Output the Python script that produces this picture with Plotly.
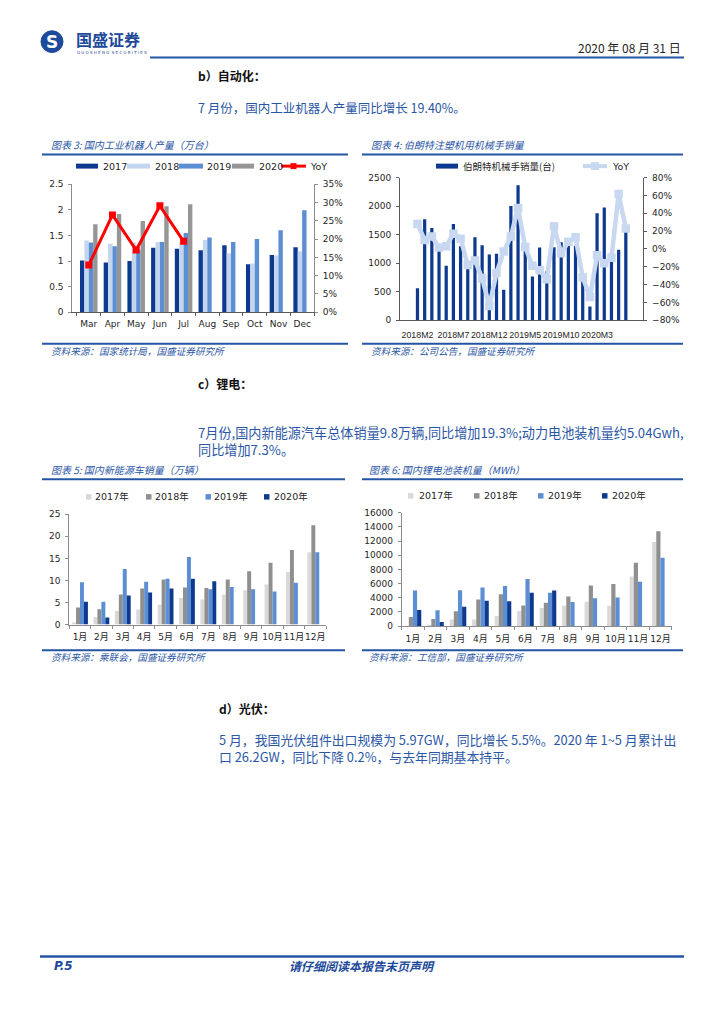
import plotly.graph_objects as go

W, H = 724, 1024


def X(px):
    return px / W


def Y(py):
    return 1 - py / H


# ---------------- data ----------------
robot_months = ["Mar", "Apr", "May", "Jun", "Jul", "Aug", "Sep", "Oct", "Nov", "Dec"]
robot_2017 = [1.01, 0.97, 1.00, 1.26, 1.24, 1.21, 1.31, 0.94, 1.12, 1.27]
robot_2018 = [1.40, 1.34, 1.36, 1.37, 1.35, 1.41, 1.15, 0.95, 1.11, 1.19]
robot_2019 = [1.36, 1.29, 1.22, 1.37, 1.55, 1.46, 1.37, 1.43, 1.60, 1.99]
robot_2020 = [1.72, 1.92, 1.78, 2.07, 2.11]
robot_yoy = [0.129, 0.266, 0.170, 0.291, 0.194]

arm_months = (["2018M%d" % m for m in range(2, 13)]
              + ["2019M%d" % m for m in range(1, 13)]
              + ["2020M%d" % m for m in range(1, 8)])
arm_sales = [560, 1770, 1615, 1330, 955, 1685, 1295, 910, 1455, 1315, 1150, 1165,
             535, 2000, 2365, 1340, 765, 1275, 860, 1280, 1365, 1320, 1305, 730,
             240, 1875, 1975, 1190, 1235, 1555]
arm_yoy = [0.28, 0.10, 0.14, 0.015, 0.03, 0.17, 0.115, -0.18, -0.13, -0.33, -0.64, -0.27,
           -0.03, 0.14, 0.46, 0.02, -0.19, -0.24, -0.34, 0.255, -0.05, 0.08, 0.13, -0.32,
           -0.54, -0.07, -0.16, -0.10, 0.615, 0.23]
arm_ticks = ["2018M2", "2018M7", "2018M12", "2019M5", "2019M10", "2020M3"]

cn_months = ["1月", "2月", "3月", "4月", "5月", "6月", "7月", "8月", "9月", "10月", "11月", "12月"]
nev_2017 = [0.5, 1.7, 3.1, 3.4, 4.5, 6.0, 5.7, 6.8, 7.8, 9.1, 11.9, 16.4]
nev_2018 = [3.9, 3.5, 6.8, 8.2, 10.2, 8.4, 8.3, 10.2, 12.1, 14.0, 16.9, 22.5]
nev_2019 = [9.6, 5.2, 12.6, 9.7, 10.4, 15.3, 8.0, 8.5, 8.0, 7.5, 9.5, 16.4]
nev_2020 = [5.2, 1.6, 6.6, 7.3, 8.2, 10.4, 9.8]

bat_2017 = [50, 150, 930, 930, 1440, 2140, 2560, 2880, 3440, 2880, 7020, 11860]
bat_2018 = [1300, 1020, 2090, 3770, 4510, 2930, 3300, 4190, 5720, 5950, 8930, 13400]
bat_2019 = [5020, 2230, 5070, 5440, 5670, 6650, 4700, 3400, 3950, 4050, 6280, 9630]
bat_2020 = [2280, 600, 2740, 3580, 3530, 4700, 5020]

year_names = ["2017", "2018", "2019", "2020"]
year_cn = ["2017年", "2018年", "2019年", "2020年"]

# ---------------- styles ----------------
DARK = "#0D3A8F"
LIGHT = "#C4D6EF"
MID = "#5B8ED3"
GRAY = "#969696"
LGRAY = "#D9D9D9"
DGRAY = "#8F8F8F"
RED = "#FF0000"
YOYBLUE = "#C7D8F0"
LINEBLUE = "#2455A4"
TEXTBLUE = "#2B56A5"
AXC = "#8C8C8C"

CJK = "Noto Sans CJK SC"
TICKF = dict(family="DejaVu Sans, Noto Sans CJK SC", size=9, color="#262626")

fig = go.Figure()

# chart 3: robots
for name, vals, col in zip(year_names, [robot_2017, robot_2018, robot_2019, robot_2020],
                           [DARK, LIGHT, MID, GRAY]):
    fig.add_trace(go.Bar(x=robot_months[:len(vals)], y=vals, name=name, marker_color=col,
                         marker_line_width=0, xaxis="x", yaxis="y", showlegend=False))
fig.add_trace(go.Scatter(x=robot_months[:len(robot_yoy)], y=robot_yoy, name="YoY",
                         mode="lines+markers", line=dict(color=RED, width=3),
                         marker=dict(symbol="square", size=7, color=RED),
                         xaxis="x", yaxis="y2", showlegend=False))

# chart 4: arms
fig.add_trace(go.Bar(x=arm_months, y=arm_sales, name="伯朗特机械手销量(台)", marker_color=DARK,
                     marker_line_width=0, width=0.45, xaxis="x2", yaxis="y3", showlegend=False))
fig.add_trace(go.Scatter(x=arm_months, y=arm_yoy, name="YoY", mode="lines+markers",
                         line=dict(color=YOYBLUE, width=4.5),
                         marker=dict(symbol="square", size=8.5, color=YOYBLUE),
                         xaxis="x2", yaxis="y4", showlegend=False))

# chart 5: NEV
for name, vals, col in zip(year_cn, [nev_2017, nev_2018, nev_2019, nev_2020],
                           [LGRAY, DGRAY, MID, DARK]):
    fig.add_trace(go.Bar(x=cn_months[:len(vals)], y=vals, name=name, marker_color=col,
                         marker_line_width=0, xaxis="x3", yaxis="y5", showlegend=False))

# chart 6: battery
for name, vals, col in zip(year_cn, [bat_2017, bat_2018, bat_2019, bat_2020],
                           [LGRAY, DGRAY, MID, DARK]):
    fig.add_trace(go.Bar(x=cn_months[:len(vals)], y=vals, name=name, marker_color=col,
                         marker_line_width=0, xaxis="x4", yaxis="y6", showlegend=False))


def xax(dom, anchor, ticks="outside", **kw):
    d = dict(domain=[X(dom[0]), X(dom[1])], anchor=anchor, type="category",
             showline=True, linecolor="#595959", linewidth=1, ticks=ticks,
             tickcolor="#595959", ticklen=3, tickfont=TICKF, showgrid=False,
             zeroline=False, ticklabelstandoff=3, tickangle=0)
    d.update(kw)
    return d


def yax(dom, anchor, rng, dtick, **kw):
    d = dict(domain=[Y(dom[1]), Y(dom[0])], anchor=anchor, range=rng, dtick=dtick,
             showline=True, linecolor=AXC, linewidth=1, ticks="outside", tickcolor=AXC,
             ticklen=3, tickfont=TICKF, showgrid=False, zeroline=False,
             ticklabelstandoff=3)
    d.update(kw)
    return d


shapes = []
ann = []


def hline(x0, x1, y, color=LINEBLUE, w=2):
    shapes.append(dict(type="line", xref="paper", yref="paper", x0=X(x0), x1=X(x1),
                       y0=Y(y), y1=Y(y), line=dict(color=color, width=w)))


def rect(x0, x1, y0, y1, color):
    shapes.append(dict(type="rect", xref="paper", yref="paper", x0=X(x0), x1=X(x1),
                       y0=Y(y1), y1=Y(y0), fillcolor=color, line=dict(width=0)))


def text(x, y, s, size=10, color="#262626", family=CJK, anchor="left", bold=False,
         italic=False):
    if bold:
        s = "<b>" + s + "</b>"
    if italic:
        s = "<i>" + s + "</i>"
    ann.append(dict(xref="paper", yref="paper", x=X(x), y=Y(y), text=s, showarrow=False,
                    xanchor=anchor, yanchor="middle",
                    font=dict(family=family, size=size, color=color)))


TITLE = 10
SRC = 9.6

# ---------- header ----------
shapes.append(dict(type="circle", xref="paper", yref="paper", x0=X(41), x1=X(63),
                   y0=Y(48), y1=Y(26), fillcolor="#1D4A9A", line=dict(color="#1D4A9A", width=1)))
text(52, 37.5, "S", size=17, color="white", family="DejaVu Sans", anchor="center", bold=True)
text(74, 34.5, "国盛证券", size=16, color="#1D4A9A", bold=True)
text(75, 48, "G U O S H E N G  S E C U R I T I E S", size=4, color="#1D4A9A",
     family="DejaVu Sans")
text(683, 43, "2020 年 08 月 31 日", size=12, color="#262626", anchor="right")
hline(150, 684, 53, w=2)

# ---------- section b ----------
text(196, 71, "b）自动化：", size=12, color="#111111", bold=True)
text(196, 104, "7 月份，国内工业机器人产量同比增长 19.40%。", size=12.5, color=TEXTBLUE)

# chart 3 frame
text(49, 141, "图表 3: 国内工业机器人产量（万台）", size=TITLE, color=TEXTBLUE, italic=True)
hline(42, 348, 151)
hline(42, 348, 342)
text(49, 349, "资料来源：国家统计局，国盛证券研究所", size=SRC, color=TEXTBLUE, italic=True)
leg_y = 162.7
for (x0, x1, tx), col, nm in zip([(76, 98, 101), (127, 150, 153), (179, 203, 205),
                                  (232, 254, 257)], [DARK, LIGHT, MID, GRAY], year_names):
    rect(x0, x1, leg_y - 2.5, leg_y + 2.5, col)
    text(tx, leg_y, nm, size=9.5, family="DejaVu Sans")
hline(281, 306, leg_y, color=RED, w=3)
rect(290.5, 296.5, leg_y - 3, leg_y + 3, RED)
text(308, leg_y, "YoY", size=9.5, family="DejaVu Sans")

# chart 4 frame
text(369, 141, "图表 4: 伯朗特注塑机用机械手销量", size=TITLE, color=TEXTBLUE, italic=True)
hline(362, 683, 151)
hline(362, 683, 342)
text(369, 349, "资料来源：公司公告，国盛证券研究所", size=SRC, color=TEXTBLUE, italic=True)
rect(436, 458, leg_y - 2.5, leg_y + 2.5, DARK)
text(461, leg_y, "伯朗特机械手销量(台)", size=9.5)
hline(583, 607, leg_y, color=YOYBLUE, w=4)
rect(591, 599, leg_y - 4, leg_y + 4, YOYBLUE)
text(610, leg_y, "YoY", size=9.5, family="DejaVu Sans")

# ---------- section c ----------
text(196, 382, "c）锂电：", size=12, color="#111111", bold=True)
text(196, 432, "7月份,国内新能源汽车总体销量9.8万辆,同比增加19.3%;动力电池装机量约5.04Gwh,",
     size=13.15, color=TEXTBLUE)
text(196, 449, "同比增加7.3%。", size=13.15, color=TEXTBLUE)

# chart 5 frame
text(49, 469, "图表 5: 国内新能源车销量（万辆）", size=TITLE, color=TEXTBLUE, italic=True)
hline(42, 345, 479)
hline(42, 345, 651.5)
text(49, 658, "资料来源：乘联会，国盛证券研究所", size=SRC, color=TEXTBLUE, italic=True)
ly5 = 496.7
for sx, tx, col, nm in zip([86, 146, 205.5, 264], [93.5, 153, 212, 272],
                           [LGRAY, DGRAY, MID, DARK], year_cn):
    rect(sx, sx + 5.5, ly5 - 2.75, ly5 + 2.75, col)
    text(tx, ly5, nm, size=9.5, family="DejaVu Sans, Noto Sans CJK SC")

# chart 6 frame
text(367, 469, "图表 6: 国内锂电池装机量（MWh）", size=TITLE, color=TEXTBLUE, italic=True)
hline(362, 683, 479)
hline(362, 683, 651.5)
text(367, 658, "资料来源：工信部，国盛证券研究所", size=SRC, color=TEXTBLUE, italic=True)
ly6 = 495.7
for sx, tx, col, nm in zip([408, 474, 538, 602], [416.5, 481.5, 546, 610],
                           [LGRAY, DGRAY, MID, DARK], year_cn):
    rect(sx, sx + 5.5, ly6 - 2.75, ly6 + 2.75, col)
    text(tx, ly6, nm, size=9.5, family="DejaVu Sans, Noto Sans CJK SC")

# ---------- section d ----------
text(217, 710, "d）光伏：", size=12, color="#111111", bold=True)
text(217, 742, "5 月，我国光伏组件出口规模为 5.97GW，同比增长 5.5%。2020 年 1~5 月累计出",
     size=12.85, color=TEXTBLUE)
text(217, 759, "口 26.2GW，同比下降 0.2%，与去年同期基本持平。", size=12.85, color=TEXTBLUE)

# ---------- footer ----------
hline(40, 684, 961, w=2.5)
text(52, 970, "P.5", size=12, color="#1D4A9A", family="DejaVu Sans", bold=True, italic=True)
text(362, 970, "请仔细阅读本报告末页声明", size=12, color="#1D4A9A", anchor="center",
     bold=True, italic=True)

fig.update_layout(
    width=W, height=H, margin=dict(l=0, r=0, t=0, b=0),
    paper_bgcolor="white", plot_bgcolor="rgba(0,0,0,0)",
    barmode="group", bargap=0.26, bargroupgap=0,
    showlegend=False,
    xaxis=xax((72.3, 314), "y", tickson="boundaries"),
    yaxis=yax((181, 310.3), "x", [0, 2.5], 0.5),
    yaxis2=yax((181, 310.3), "x", [0, 0.35], 0.05, overlaying="y", side="right",
               tickformat=".0%"),
    xaxis2=xax((400, 643.3), "y3", ticks="", tickvals=arm_ticks, ticklabelstandoff=6,
               tickfont=dict(family="Liberation Sans", size=8.8, color="#262626")),
    yaxis3=yax((174.3, 318.3), "x2", [0, 2500], 500, linecolor="#595959", tickcolor="#595959"),
    yaxis4=yax((174.3, 318.3), "x2", [-0.8, 0.8], 0.2, overlaying="y3", side="right",
               tickformat=".0%", linecolor="#595959", tickcolor="#595959"),
    xaxis3=xax((69.3, 326), "y5", tickson="boundaries", linecolor=AXC, tickcolor=AXC,
               ticklabelstandoff=4),
    yaxis5=yax((514.3, 625.7), "x3", [0, 25], 5),
    xaxis4=xax((401.7, 671.7), "y6", tickson="boundaries", linecolor=AXC, tickcolor=AXC,
               ticklabelstandoff=4),
    yaxis6=yax((512.7, 627.3), "x4", [0, 16000], 2000, tickformat="d"),
    shapes=shapes, annotations=ann,
)

fig.write_html("out.html", config={"displayModeBar": False},
               post_script="document.body.style.margin='0';")
